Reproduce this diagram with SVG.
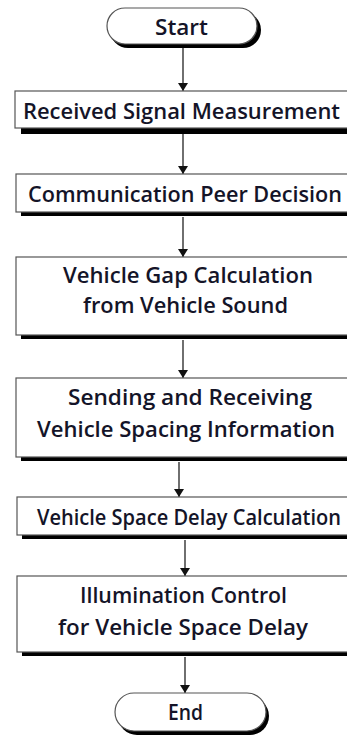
<svg xmlns="http://www.w3.org/2000/svg" width="347" height="737" viewBox="0 0 347 737">
<defs>
<style>
.box{fill:#fff;stroke:#555;stroke-width:1.2}
.sh{fill:#000}
.t{font-family:"Open Sans","Noto Sans","Liberation Sans",sans-serif;font-weight:600;font-size:21px;fill:#141428;text-anchor:start}
.c{stroke:#222;stroke-width:1.3;fill:none}
</style>
<marker id="ah" viewBox="0 0 8 10" refX="8" refY="5" markerWidth="8" markerHeight="10" orient="auto" markerUnits="userSpaceOnUse">
<path d="M0,0 L8,5 L0,10 Z" fill="#111"/>
</marker>
</defs>
<rect width="347" height="737" fill="#fff"/>
<g id="connectors">
<line class="c" x1="183" y1="48" x2="183" y2="91" marker-end="url(#ah)"/>
<line class="c" x1="183" y1="134" x2="183" y2="174" marker-end="url(#ah)"/>
<line class="c" x1="183" y1="217" x2="183" y2="257" marker-end="url(#ah)"/>
<line class="c" x1="183" y1="340" x2="183" y2="378" marker-end="url(#ah)"/>
<line class="c" x1="179" y1="462" x2="179" y2="497" marker-end="url(#ah)"/>
<line class="c" x1="185" y1="540" x2="185" y2="576" marker-end="url(#ah)"/>
<line class="c" x1="185" y1="657" x2="185" y2="693" marker-end="url(#ah)"/>
</g>
<g id="start">
<rect class="sh" x="110" y="12" width="151" height="36" rx="18"/>
<rect class="box" x="107" y="8" width="150" height="36" rx="18"/>
<text class="t" x="155" y="35" textLength="53" lengthAdjust="spacingAndGlyphs">Start</text>
</g>
<g id="n1">
<rect class="sh" x="21" y="96" width="340" height="38"/>
<rect class="box" x="15" y="91" width="345" height="37"/>
<text class="t" x="23" y="119" textLength="317" lengthAdjust="spacingAndGlyphs">Received Signal Measurement</text>
</g>
<g id="n2">
<rect class="sh" x="21" y="179" width="340" height="37"/>
<rect class="box" x="16" y="174" width="345" height="38"/>
<text class="t" x="28" y="202" textLength="314" lengthAdjust="spacingAndGlyphs">Communication Peer Decision</text>
</g>
<g id="n3">
<rect class="sh" x="21" y="262" width="340" height="77"/>
<rect class="box" x="16" y="257" width="345" height="78"/>
<text class="t" x="63" y="283" textLength="250" lengthAdjust="spacingAndGlyphs">Vehicle Gap Calculation</text>
<text class="t" x="83" y="313" textLength="205" lengthAdjust="spacingAndGlyphs">from Vehicle Sound</text>
</g>
<g id="n4">
<rect class="sh" x="21" y="383" width="340" height="78"/>
<rect class="box" x="16" y="378" width="345" height="79"/>
<text class="t" x="68" y="405" textLength="244" lengthAdjust="spacingAndGlyphs">Sending and Receiving</text>
<text class="t" x="37" y="437" textLength="298" lengthAdjust="spacingAndGlyphs">Vehicle Spacing Information</text>
</g>
<g id="n5">
<rect class="sh" x="22" y="502" width="340" height="37"/>
<rect class="box" x="17" y="497" width="345" height="38"/>
<text class="t" x="37" y="525" font-size="20" textLength="304" lengthAdjust="spacingAndGlyphs">Vehicle Space Delay Calculation</text>
</g>
<g id="n6">
<rect class="sh" x="22" y="581" width="340" height="75"/>
<rect class="box" x="17" y="576" width="345" height="76"/>
<text class="t" x="80" y="603" textLength="207" lengthAdjust="spacingAndGlyphs">Illumination Control</text>
<text class="t" x="58" y="635" textLength="250" lengthAdjust="spacingAndGlyphs">for Vehicle Space Delay</text>
</g>
<g id="end">
<rect class="sh" x="118" y="697" width="151" height="38" rx="19"/>
<rect class="box" x="115" y="693" width="151" height="38" rx="19"/>
<text class="t" x="168" y="720" textLength="35" lengthAdjust="spacingAndGlyphs">End</text>
</g>
</svg>
